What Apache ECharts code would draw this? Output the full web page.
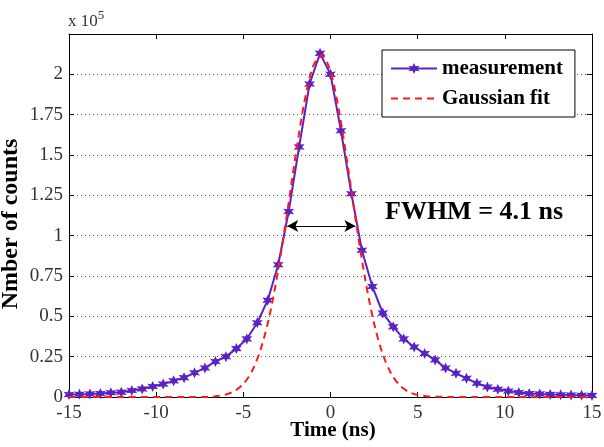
<!DOCTYPE html>
<html><head><meta charset="utf-8">
<script src="https://cdn.jsdelivr.net/npm/echarts@6/dist/echarts.min.js"></script>
<style>html,body{margin:0;padding:0;background:#fff}#c{width:604px;height:447px}</style>
</head><body><div id="c"></div>
<script>
var timeMeas = [-15.0,-14.4,-13.8,-13.2,-12.6,-12.0,-11.4,-10.8,-10.2,-9.6,-9.0,-8.4,-7.8,-7.2,-6.6,-6.0,-5.4,-4.8,-4.2,-3.6,-3.0,-2.4,-1.8,-1.2,-0.6,0.0,0.6,1.2,1.8,2.4,3.0,3.6,4.2,4.8,5.4,6.0,6.6,7.2,7.8,8.4,9.0,9.6,10.2,10.8,11.4,12.0,12.6,13.2,13.8,14.4,15.0];
var countsMeas = [0.015,0.017,0.019,0.022,0.026,0.030,0.040,0.050,0.065,0.080,0.100,0.120,0.150,0.180,0.220,0.250,0.300,0.360,0.460,0.600,0.820,1.150,1.550,1.940,2.130,2.000,1.650,1.260,0.910,0.685,0.520,0.435,0.360,0.310,0.270,0.230,0.180,0.147,0.116,0.085,0.062,0.048,0.037,0.028,0.022,0.019,0.016,0.014,0.012,0.011,0.010];
var timeFit = [-15,-7,-6.5,-6,-5.5,-5,-4.5,-4,-3.5,-3,-2.5,-2,-1.5,-1,-0.5,0,0.5,1,1.5,2,2.5,3,3.5,4,4.5,5,5.5,6,7,15];
var countsFit = [0,0,0.006,0.016,0.037,0.081,0.161,0.297,0.504,0.787,1.131,1.498,1.827,2.050,2.119,2.017,1.767,1.426,1.059,0.724,0.456,0.265,0.141,0.069,0.031,0.013,0.005,0.002,0,0];
var xTicks = [-15,-10,-5,0,5,10,15];
var yTickLabels = ['0','0.25','0.5','0.75','1','1.25','1.5','1.75','2',''];
var fwhmArrowX = [-2.48, 1.43];
var fwhmArrowY = 1.06;
var seriesNames = ['measurement','Gaussian fit'];

var FONT = '"Liberation Serif","Times New Roman",serif';
function pairs(xs, ys){ return xs.map(function(x,i){ return [x, ys[i]]; }); }
var star = 'path://M0,-10 L2.4,-4.2 L8.7,-5 L4.8,0 L8.7,5 L2.4,4.2 L0,10 L-2.4,4.2 L-8.7,5 L-4.8,0 L-8.7,-5 L-2.4,-4.2 Z';

var chart = echarts.init(document.getElementById('c'), null, {renderer:'canvas'});
var axisLineStyle = {color:'#000', width:1};
chart.setOption({
  animation:false,
  backgroundColor:'#fff',
  grid:{left:69, right:12, top:34, bottom:50, containLabel:false, outerBoundsMode:'none'},
  legend:{
    data:[{name:seriesNames[0]},{name:seriesNames[1], itemStyle:{opacity:0}}],
    orient:'vertical', left:382, top:50,
    padding:[8,12,8,8], itemGap:9, itemWidth:46, itemHeight:14,
    backgroundColor:'#fff', borderColor:'#000', borderWidth:1, borderRadius:0,
    textStyle:{fontFamily:FONT, fontWeight:'bold', fontSize:21, color:'#000'}
  },
  xAxis:[{
    type:'value', min:-15, max:15, interval:5, position:'bottom',
    axisLine:{show:true, onZero:false, lineStyle:axisLineStyle},
    axisTick:{show:true, inside:true, length:5, lineStyle:axisLineStyle},
    axisLabel:{fontFamily:FONT, fontSize:19, color:'#333', margin:7,
      formatter:function(v){ return xTicks.indexOf(v) >= 0 ? String(v) : ''; }},
    splitLine:{show:false}
  },{
    type:'value', min:-15, max:15, interval:5, position:'top',
    axisLine:{show:true, onZero:false, lineStyle:axisLineStyle},
    axisTick:{show:true, inside:true, length:5, lineStyle:axisLineStyle},
    axisLabel:{show:false}, splitLine:{show:false}
  }],
  yAxis:[{
    type:'value', min:0, max:2.25, interval:0.25, position:'left',
    axisLine:{show:true, onZero:false, lineStyle:axisLineStyle},
    axisTick:{show:true, inside:true, length:5, lineStyle:axisLineStyle},
    axisLabel:{fontFamily:FONT, fontSize:19, color:'#333', margin:6,
      formatter:function(v){ var i=Math.round(v/0.25); return yTickLabels[i]||''; }},
    splitLine:{show:true, lineStyle:{color:'#555', type:[1,3], width:1}}
  },{
    type:'value', min:0, max:2.25, interval:0.25, position:'right',
    axisLine:{show:true, onZero:false, lineStyle:axisLineStyle},
    axisTick:{show:true, inside:true, length:5, lineStyle:axisLineStyle},
    axisLabel:{show:false}, splitLine:{show:false}
  }],
  graphic:[
    {type:'text', left:68, top:9, style:{text:'x 10{s|5}', rich:{s:{fontFamily:FONT, fontSize:13, fill:'#333', padding:[0,0,12,0]}}, font:'17px ' + FONT, fill:'#333'}},
    {type:'text', x:11, y:224, rotation:Math.PI/2, style:{text:'Nmber of counts', font:'bold 24px ' + FONT, fill:'#000', align:'center', verticalAlign:'middle'}},
    {type:'text', x:333, y:431, style:{text:'Time (ns)', font:'bold 21px ' + FONT, fill:'#000', align:'center', verticalAlign:'middle'}},
    {type:'text', x:385, y:212, style:{text:'FWHM = 4.1 ns', font:'bold 26px ' + FONT, fill:'#000', align:'left', verticalAlign:'middle'}}
  ],
  series:[{
    name:seriesNames[0], type:'line', data:pairs(timeMeas, countsMeas), z:3,
    symbol:star, symbolSize:11, showSymbol:true,
    lineStyle:{color:'#5a22c4', width:2}, itemStyle:{color:'#5a22c4'}
  },{
    name:seriesNames[1], type:'line', data:pairs(timeFit, countsFit), z:4,
    symbol:'none', smooth:0.3,
    lineStyle:{color:'#ff1a1a', width:2, type:[7,5]}, itemStyle:{color:'#ff1a1a'},
    markLine:{silent:true, symbol:['arrow','arrow'], symbolSize:[9,11], label:{show:false},
      lineStyle:{color:'#000', width:1, type:'solid'},
      data:[[{coord:[fwhmArrowX[0], fwhmArrowY]},{coord:[fwhmArrowX[1], fwhmArrowY]}]]}
  }]
});
</script></body></html>
